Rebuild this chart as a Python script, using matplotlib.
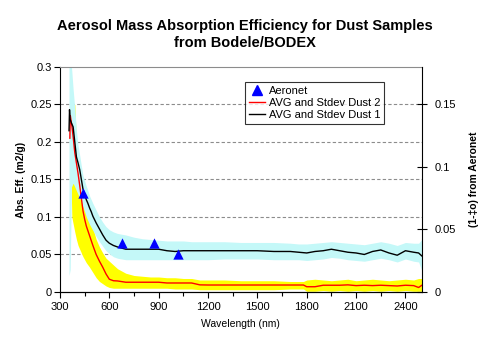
#!/usr/bin/env python3

import numpy as np
import matplotlib
matplotlib.use("Agg")
import matplotlib.pyplot as plt
import matplotlib as mpl
from matplotlib.ticker import MultipleLocator

mpl.rcParams.update({
    "font.family": ["Liberation Sans", "DejaVu Sans"], "font.size": 8,
    "xtick.labelsize": 8, "ytick.labelsize": 8,
})

# ---------- data ----------
# Dust 1 (black line, light cyan stdev band)
D1_WL = [355, 358, 362, 370, 380, 390, 400, 410, 420, 430,
         440, 450, 460, 470, 480, 490, 500, 520, 540, 560,
         580, 600, 625, 650, 700, 750, 800, 900, 950, 1000,
         1050, 1100, 1200, 1300, 1400, 1500, 1600, 1700, 1750, 1800,
         1850, 1900, 1950, 2000, 2050, 2100, 2150, 2200, 2250, 2300,
         2350, 2400, 2450, 2480, 2500]
D1_AVG = [0.215, 0.243, 0.230, 0.225, 0.220, 0.200, 0.180, 0.172, 0.163, 0.150,
          0.137, 0.130, 0.123, 0.118, 0.112, 0.107, 0.101, 0.092, 0.084, 0.076,
          0.069, 0.065, 0.062, 0.060, 0.057, 0.057, 0.057, 0.057, 0.055, 0.054,
          0.055, 0.055, 0.055, 0.055, 0.055, 0.055, 0.054, 0.054, 0.053, 0.052,
          0.054, 0.055, 0.057, 0.055, 0.053, 0.052, 0.050, 0.054, 0.056, 0.052,
          0.049, 0.055, 0.053, 0.052, 0.048]
D1_HI = [0.310, 0.310, 0.310, 0.300, 0.270, 0.245, 0.215, 0.195, 0.182, 0.168,
         0.155, 0.148, 0.141, 0.135, 0.128, 0.123, 0.118, 0.109, 0.100, 0.093,
         0.087, 0.083, 0.080, 0.078, 0.076, 0.073, 0.071, 0.069, 0.068, 0.068,
         0.068, 0.067, 0.067, 0.067, 0.066, 0.066, 0.066, 0.065, 0.064, 0.064,
         0.065, 0.066, 0.067, 0.066, 0.065, 0.064, 0.063, 0.065, 0.067, 0.065,
         0.062, 0.066, 0.065, 0.065, 0.070]
D1_LO = [0.022, 0.025, 0.030, 0.140, 0.145, 0.140, 0.135, 0.130, 0.125, 0.119,
         0.113, 0.107, 0.100, 0.095, 0.090, 0.086, 0.082, 0.074, 0.067, 0.061,
         0.055, 0.051, 0.047, 0.045, 0.043, 0.043, 0.043, 0.043, 0.043, 0.043,
         0.043, 0.043, 0.043, 0.044, 0.044, 0.044, 0.043, 0.043, 0.043, 0.042,
         0.043, 0.044, 0.046, 0.045, 0.043, 0.042, 0.041, 0.043, 0.045, 0.043,
         0.040, 0.044, 0.041, 0.040, 0.028]

# Dust 2 (red line, yellow stdev band)
D2_WL = [360, 363, 367, 372, 380, 390, 400, 410, 420, 430,
         440, 450, 460, 480, 500, 520, 540, 560, 580, 600,
         625, 650, 700, 750, 800, 850, 900, 950, 1000, 1050,
         1100, 1150, 1200, 1300, 1400, 1500, 1600, 1700, 1780, 1800,
         1850, 1900, 1950, 2000, 2050, 2100, 2150, 2200, 2250, 2300,
         2350, 2400, 2450, 2480, 2500]
D2_AVG = [0.205, 0.235, 0.229, 0.222, 0.207, 0.186, 0.172, 0.158, 0.142, 0.125,
          0.108, 0.097, 0.088, 0.075, 0.062, 0.050, 0.041, 0.033, 0.024, 0.017,
          0.015, 0.0147, 0.013, 0.013, 0.013, 0.013, 0.013, 0.012, 0.012, 0.012,
          0.012, 0.0095, 0.0093, 0.0093, 0.0093, 0.0093, 0.0093, 0.0093, 0.0093, 0.007,
          0.007, 0.009, 0.009, 0.009, 0.0095, 0.0085, 0.009, 0.0085, 0.009, 0.0085,
          0.008, 0.009, 0.0085, 0.006, 0.009]
D2_HI = [0.120, 0.250, 0.250, 0.250, 0.250, 0.250, 0.200, 0.180, 0.170, 0.150,
         0.130, 0.120, 0.110, 0.095, 0.085, 0.070, 0.060, 0.052, 0.045, 0.041,
         0.036, 0.031, 0.025, 0.022, 0.021, 0.020, 0.020, 0.019, 0.019, 0.018,
         0.018, 0.016, 0.016, 0.016, 0.015, 0.015, 0.015, 0.014, 0.014, 0.016,
         0.017, 0.016, 0.015, 0.016, 0.017, 0.015, 0.016, 0.017, 0.016, 0.015,
         0.016, 0.017, 0.016, 0.018, 0.018]
D2_LO = [0.190, 0.200, 0.150, 0.100, 0.091, 0.080, 0.070, 0.062, 0.057, 0.052,
         0.047, 0.043, 0.039, 0.033, 0.026, 0.019, 0.014, 0.011, 0.008, 0.006,
         0.005, 0.005, 0.005, 0.005, 0.005, 0.005, 0.005, 0.005, 0.004, 0.004,
         0.004, 0.003, 0.003, 0.003, 0.003, 0.003, 0.003, 0.004, 0.004, 0.001,
         0.001, 0.002, 0.001, 0.002, 0.001, 0.002, 0.001, 0.002, 0.001, 0.002,
         0.001, 0.002, 0.001, 0.001, 0.001]

# Aeronet (1 - single scattering albedo), right axis
AER_WL = [440, 675, 870, 1020]
AER_VAL = [0.079, 0.039, 0.039, 0.030]

LEFT_TICKS = [0, 0.05, 0.1, 0.15, 0.2, 0.25, 0.3]
RIGHT_TICKS = [0, 0.05, 0.1, 0.15]
X_TICKS = [300, 600, 900, 1200, 1500, 1800, 2100, 2400]

CYAN = "#c4f8f8"
YELLOW = "#ffff00"

fig = plt.figure(figsize=(4.9, 3.55), dpi=100)
ax = fig.add_axes([0.1224, 0.1775, 0.7386, 0.634])

ax.fill_between(D2_WL, D2_LO, D2_HI, color=YELLOW, lw=0, zorder=1)
ax.fill_between(D1_WL, D1_LO, D1_HI, color=CYAN, lw=0, zorder=2)
ax.plot(D2_WL, D2_AVG, color="red", lw=1.0, zorder=3)
ax.plot(D1_WL, D1_AVG, color="black", lw=1.0, zorder=4)

ax.set_xlim(300, 2500)
ax.set_ylim(0, 0.3)
ax.set_xticks(X_TICKS)
ax.set_xticklabels([str(t) for t in X_TICKS])
ax.xaxis.set_minor_locator(MultipleLocator(150))
ax.set_yticks(LEFT_TICKS)
ax.set_yticklabels(["0", "0.05", "0.1", "0.15", "0.2", "0.25", "0.3"])
ax.tick_params(axis="both", which="both", direction="out", length=4, width=0.8)
ax.tick_params(axis="x", which="minor", length=3)
ax.tick_params(axis="y", pad=2)
for t in LEFT_TICKS[1:-1]:
    ax.axhline(t, color="0.55", lw=0.8, ls=(0, (3, 2)), zorder=0)
ax.spines["top"].set_color("0.55")
ax.spines["right"].set_visible(False)
ax.set_xlabel("Wavelength (nm)", fontsize=7.5, labelpad=5)
ax.set_ylabel("Abs. Eff. (m2/g)", fontsize=7.5, fontweight="bold", labelpad=3)

ax2 = ax.twinx()
ax2.patch.set_visible(False)
ax2.scatter(AER_WL, AER_VAL, marker="^", s=55, color="#0000ff", zorder=5,
            linewidths=0)
ax2.set_ylim(0, 0.18)
ax2.set_yticks(RIGHT_TICKS)
ax2.set_yticklabels(["0", "0.05", "0.1", "0.15"])
ax2.tick_params(axis="y", direction="inout", length=7, width=0.8, pad=6)
ax2.spines["top"].set_visible(False)
ax2.spines["left"].set_visible(False)
ax2.set_ylabel("(1-\u2021o) from Aeronet", fontsize=7.5, fontweight="bold",
               labelpad=9)

# legend built from proxy handles so order matches the reference
h_aer = plt.Line2D([], [], marker="^", color="#0000ff", ls="none", ms=7)
h_d2 = plt.Line2D([], [], color="red", lw=1.0)
h_d1 = plt.Line2D([], [], color="black", lw=1.0)
leg = ax.legend([h_aer, h_d2, h_d1],
                ["Aeronet", "AVG and Stdev Dust 2", "AVG and Stdev Dust 1"],
                loc="upper left", bbox_to_anchor=(0.511, 0.933),
                fontsize=8, frameon=True, fancybox=False, handlelength=1.5,
                handletextpad=0.3, borderpad=0.35, labelspacing=0.2,
                borderaxespad=0)
leg.get_frame().set_edgecolor("black")
leg.get_frame().set_linewidth(0.8)
leg.set_zorder(10)

fig.text(0.5, 0.903, "Aerosol Mass Absorption Efficiency for Dust Samples\nfrom Bodele/BODEX",
         ha="center", va="center", fontsize=10.5, fontweight="bold", linespacing=1.3)

fig.savefig("out.png", dpi=100)
